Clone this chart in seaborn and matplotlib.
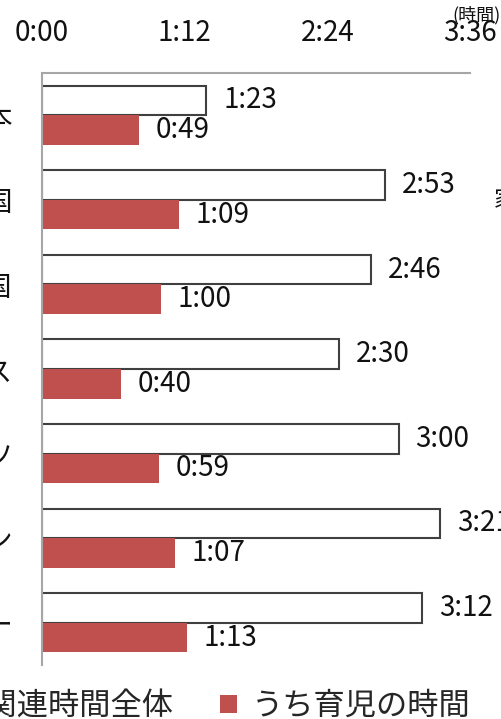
import matplotlib
matplotlib.use("Agg")
import matplotlib.pyplot as plt
import seaborn as sns
import pandas as pd
from matplotlib.patches import Patch

countries = ["日本", "米国", "英国", "フランス", "ドイツ", "スウェーデン", "ノルウェー"]
series_names = ["家事関連時間全体", "うち育児の時間"]
total_minutes = [83, 173, 166, 150, 180, 201, 192]
childcare_minutes = [49, 69, 60, 40, 59, 67, 73]
xtick_minutes = [0, 72, 144, 216]
xtick_labels = ["0:00", "1:12", "2:24", "3:36"]

sns.set_theme(style="white")
plt.rcParams["font.family"] = ["Noto Sans CJK JP", "DejaVu Sans"]

rows = []
for c, t, k in zip(countries, total_minutes, childcare_minutes):
    rows.append({"country": c, "series": series_names[0], "minutes": t})
    rows.append({"country": c, "series": series_names[1], "minutes": k})
df = pd.DataFrame(rows)

W, H = 502, 719
fig = plt.figure(figsize=(W / 100, H / 100), dpi=100)
ax = fig.add_axes([42 / W, 1 - 665 / H, (470 - 42) / W, (665 - 73) / H])

red = "#C0504D"
sns.barplot(data=df, y="country", x="minutes", hue="series", orient="h",
            palette={series_names[0]: "white", series_names[1]: red},
            width=0.7, ax=ax, legend=False, saturation=1)

for p in ax.containers[0]:
    p.set_edgecolor("#404040")
    p.set_linewidth(1.5)
for p in ax.containers[1]:
    p.set_edgecolor("none")

def fmt(m):
    return f"{int(m) // 60}:{int(m) % 60:02d}"

ax.bar_label(ax.containers[0], labels=[fmt(v) for v in total_minutes],
             padding=12, fontsize=20, color="#111111")
ax.bar_label(ax.containers[1], labels=[fmt(v) for v in childcare_minutes],
             padding=12, fontsize=20, color="#111111")

ax.set_xlim(0, 216)
ax.xaxis.tick_top()
ax.set_xticks(xtick_minutes)
ax.set_xticklabels(xtick_labels, fontsize=20, color="#111111")
ax.tick_params(axis="x", length=0, pad=18)
ax.tick_params(axis="y", length=0, pad=21, labelsize=20, labelcolor="#111111")
ax.set_xlabel("")
ax.set_ylabel("")
for s in ["right", "bottom"]:
    ax.spines[s].set_visible(False)
for s in ["top", "left"]:
    ax.spines[s].set_color("#A6A6A6")
    ax.spines[s].set_linewidth(1.5)

fig.text(501 / W, 1 - 15 / H, "(時間)", fontsize=13, ha="right", va="center", color="#111111")
fig.text(494 / W, 1 - 200 / H, "家事", fontsize=17, ha="left", va="center", color="#111111")

handles = [Patch(facecolor="white", edgecolor="#404040", linewidth=1.2),
           Patch(facecolor=red, edgecolor="none")]
fig.legend(handles, series_names, loc="center left", bbox_to_anchor=(-108 / W, 1 - 706 / H),
           ncol=2, frameon=False, fontsize=22.5, handlelength=0.55, handleheight=0.55,
           handletextpad=0.45, columnspacing=1.5, borderpad=0, borderaxespad=0)

fig.savefig("out.png", dpi=100)
